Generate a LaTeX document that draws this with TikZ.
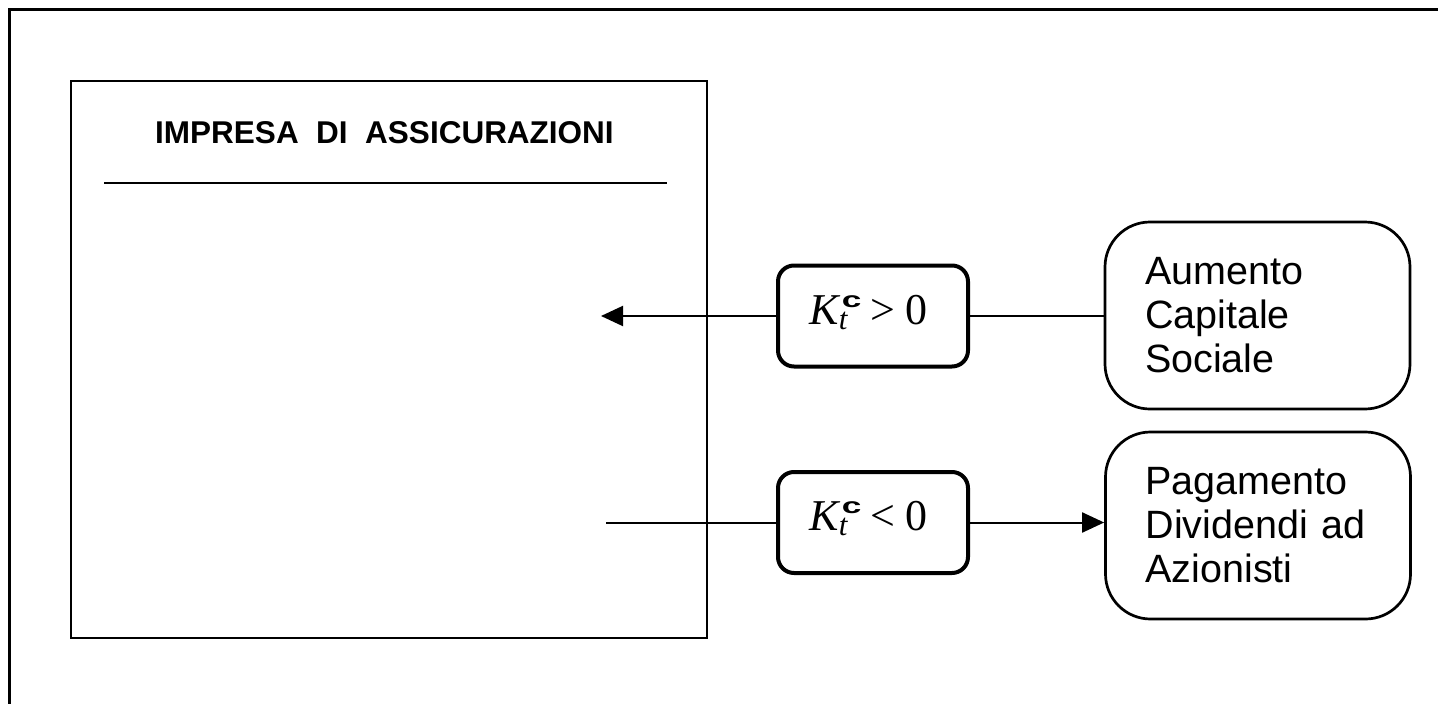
\documentclass[tikz,border=0pt]{standalone}
\usepackage{fontspec}
\usepackage{graphicx}
\setmainfont{Liberation Sans}
\newfontfamily\serifrm{Liberation Serif}
\usetikzlibrary{arrows.meta}

% K_t^c followed by a relation sign and 0
\newcommand{\kcformula}[1]{%
  {\serifrm\fontsize{44}{44}\selectfont\itshape K\rlap{\raisebox{-5pt}{\fontsize{31}{31}\selectfont t}}}%
  \kern3pt\raisebox{17pt}{\bfseries\fontsize{22}{22}\selectfont\scalebox{1.6}[1]{c}}%
  \kern9pt{\serifrm\fontsize{44}{44}\selectfont #1\kern10pt 0}\kern9pt}

\begin{document}
\begin{tikzpicture}[x=1pt,y=-1pt,
  outline/.style={line width=2.5pt},
  link/.style={line width=2pt},
  arrowed/.style={-{Triangle[length=22pt,width=20pt]}},
  condbox/.style={draw, line width=4pt, rounded corners=16pt,
    minimum width=190pt, minimum height=101pt, inner sep=0pt, text depth=13pt},
  outbox/.style={draw, line width=2.7pt, rounded corners=45pt,
    minimum width=305pt, minimum height=187pt, inner sep=0pt,
    text width=225pt, align=left, font=\fontsize{39.5}{44}\selectfont},
]
\useasboundingbox (0,0) rectangle (1438,704);

% page frame
\draw[outline] (9.7,704) -- (9.7,9.5) -- (1438,9.5);

% the insurance company
\node[draw, line width=2.2pt, minimum width=636pt, minimum height=557.5pt,
      anchor=north west, inner sep=0pt] (firm) at (70,79.5) {};
\node[anchor=base, inner sep=0pt, font=\bfseries\fontsize{31.5}{36}\selectfont]
      (title) at (384.5,143) {IMPRESA\ \ DI\ \ ASSICURAZIONI};
\draw[outline] (104,183) -- (667,183);

% capital flows
\node[condbox] (kpos) at (873,316) {\kcformula{>}};
\node[condbox] (kneg) at (873,522.5) {\kcformula{<}};

\node[outbox] (capital) at (1257.5,315.5) {Aumento\\Capitale\\Sociale};
\node[outbox] (dividend) at (1258,525.5) {Pagamento\\Dividendi ad\\Azionisti};

\coordinate (inflow) at (601,316);
\coordinate (outflow) at (606,522.5);

\draw[link, arrowed] (kpos.west) -- (inflow);
\draw[link] (kpos.east) -- (kpos.east -| capital.west);
\draw[link] (outflow) -- (kneg.west);
\draw[link, arrowed] (kneg.east) -- (kneg.east -| dividend.west);
\end{tikzpicture}
\end{document}
